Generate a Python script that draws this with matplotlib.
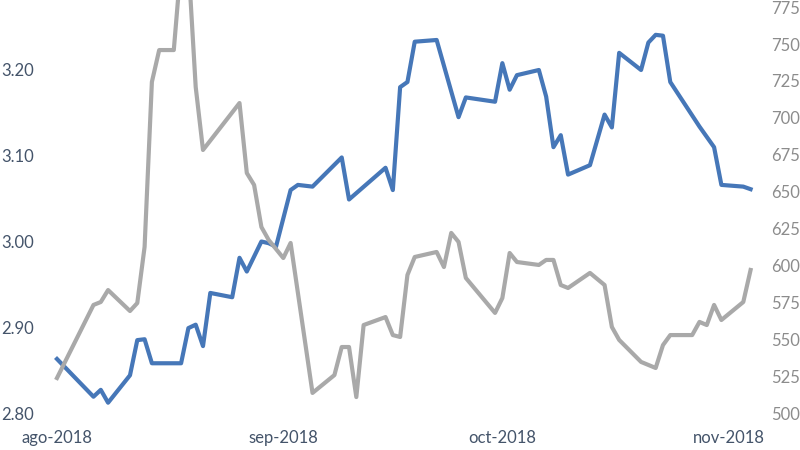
import matplotlib
matplotlib.use("Agg")
import matplotlib.pyplot as plt
import pandas as pd

# blue series (left axis)
blue_dates = ["2018-08-01", "2018-08-06", "2018-08-07", "2018-08-08", "2018-08-11",
              "2018-08-12", "2018-08-13", "2018-08-14", "2018-08-18", "2018-08-19",
              "2018-08-20", "2018-08-21", "2018-08-22", "2018-08-25", "2018-08-26",
              "2018-08-27", "2018-08-29", "2018-08-30", "2018-08-31", "2018-09-02",
              "2018-09-03", "2018-09-05", "2018-09-09", "2018-09-10", "2018-09-15",
              "2018-09-16", "2018-09-17", "2018-09-18", "2018-09-19", "2018-09-22",
              "2018-09-25", "2018-09-26", "2018-09-30", "2018-10-01", "2018-10-02",
              "2018-10-03", "2018-10-06", "2018-10-07", "2018-10-08", "2018-10-09",
              "2018-10-10", "2018-10-13", "2018-10-15", "2018-10-16", "2018-10-17",
              "2018-10-20", "2018-10-21", "2018-10-22", "2018-10-23", "2018-10-24",
              "2018-10-28", "2018-10-30", "2018-10-31", "2018-11-03", "2018-11-04"]
blue_vals = [2.863, 2.819, 2.827, 2.812, 2.844,
             2.885, 2.886, 2.858, 2.858, 2.899,
             2.903, 2.878, 2.940, 2.935, 2.981,
             2.965, 3.000, 2.998, 2.994, 3.060,
             3.066, 3.064, 3.098, 3.049, 3.086,
             3.060, 3.180, 3.186, 3.233, 3.235,
             3.145, 3.168, 3.163, 3.208, 3.177,
             3.194, 3.200, 3.169, 3.110, 3.124,
             3.078, 3.089, 3.148, 3.133, 3.220,
             3.200, 3.232, 3.241, 3.240, 3.186,
             3.134, 3.110, 3.066, 3.064, 3.061]

# gray series (right axis)
gray_dates = ["2018-08-01", "2018-08-06", "2018-08-07", "2018-08-08", "2018-08-11",
              "2018-08-12", "2018-08-13", "2018-08-14", "2018-08-15", "2018-08-17",
              "2018-08-18", "2018-08-19", "2018-08-20", "2018-08-21", "2018-08-26",
              "2018-08-27", "2018-08-28", "2018-08-29", "2018-08-30", "2018-09-01",
              "2018-09-02", "2018-09-05", "2018-09-08", "2018-09-09", "2018-09-10",
              "2018-09-11", "2018-09-12", "2018-09-15", "2018-09-16", "2018-09-17",
              "2018-09-18", "2018-09-19", "2018-09-22", "2018-09-23", "2018-09-24",
              "2018-09-25", "2018-09-26", "2018-09-30", "2018-10-01", "2018-10-02",
              "2018-10-03", "2018-10-06", "2018-10-07", "2018-10-08", "2018-10-09",
              "2018-10-10", "2018-10-13", "2018-10-15", "2018-10-16", "2018-10-17",
              "2018-10-20", "2018-10-22", "2018-10-23", "2018-10-24", "2018-10-27",
              "2018-10-28", "2018-10-29", "2018-10-30", "2018-10-31", "2018-11-03",
              "2018-11-04"]
gray_vals = [523.7, 573.2, 575.2, 583.3, 569.1,
             574.5, 612.5, 724.3, 745.9, 745.9,
             805.0, 805.0, 720.9, 678.2, 710.0,
             662.6, 654.5, 626.0, 617.2, 605.0,
             615.2, 513.6, 525.7, 544.7, 544.7,
             510.8, 559.6, 565.0, 552.8, 551.5,
             593.5, 605.7, 609.1, 598.9, 622.0,
             615.9, 591.5, 567.8, 577.9, 608.4,
             602.3, 600.3, 603.7, 603.7, 586.7,
             584.7, 594.9, 586.7, 558.3, 549.5,
             534.6, 530.5, 546.0, 552.8, 552.8,
             561.7, 559.6, 573.2, 563.0, 575.2,
             596.9]

xtick_dates = ["2018-08-01", "2018-09-01", "2018-10-01", "2018-11-01"]
xtick_labels = ["ago-2018", "sep-2018", "oct-2018", "nov-2018"]
left_ticks = [2.80, 2.90, 3.00, 3.10, 3.20]
right_ticks = [500, 525, 550, 575, 600, 625, 650, 675, 700, 725, 750, 775]

plt.rcParams['font.family'] = ['Lato', 'DejaVu Sans']

fig = plt.figure(figsize=(8, 4.5), dpi=100)
ax = fig.add_axes([45 / 800, 1 - 413 / 450, 718 / 800, 413 / 450])
ax2 = ax.twinx()

ax.plot(pd.to_datetime(blue_dates), blue_vals, color='#4677B8', lw=3.0,
        solid_joinstyle='round')
ax2.plot(pd.to_datetime(gray_dates), gray_vals, color='#A9A9A9', lw=3.0,
         solid_joinstyle='round')

start = pd.Timestamp("2018-08-01")
ax.set_xlim(start - pd.Timedelta(days=1.64), start + pd.Timedelta(days=96.7))
ax.set_ylim(2.80, 2.80 + 413 / 857.5)
ax2.set_ylim(500, 500 + 413 / 1.476)

ax.set_xticks(pd.to_datetime(xtick_dates))
ax.set_xticklabels(xtick_labels)
ax.set_yticks(left_ticks)
ax.set_yticklabels([f"{v:.2f}" for v in left_ticks])
ax2.set_yticks(right_ticks)

for a in (ax, ax2):
    for s in a.spines.values():
        s.set_visible(False)
    a.tick_params(length=0)

ax.tick_params(axis='x', colors='#44546A', labelsize=12, pad=12)
ax.tick_params(axis='y', colors='#44546A', labelsize=12, pad=8)
ax2.tick_params(axis='y', colors='#8C8C8C', labelsize=12, pad=6)

fig.savefig("out.png", dpi=100)
